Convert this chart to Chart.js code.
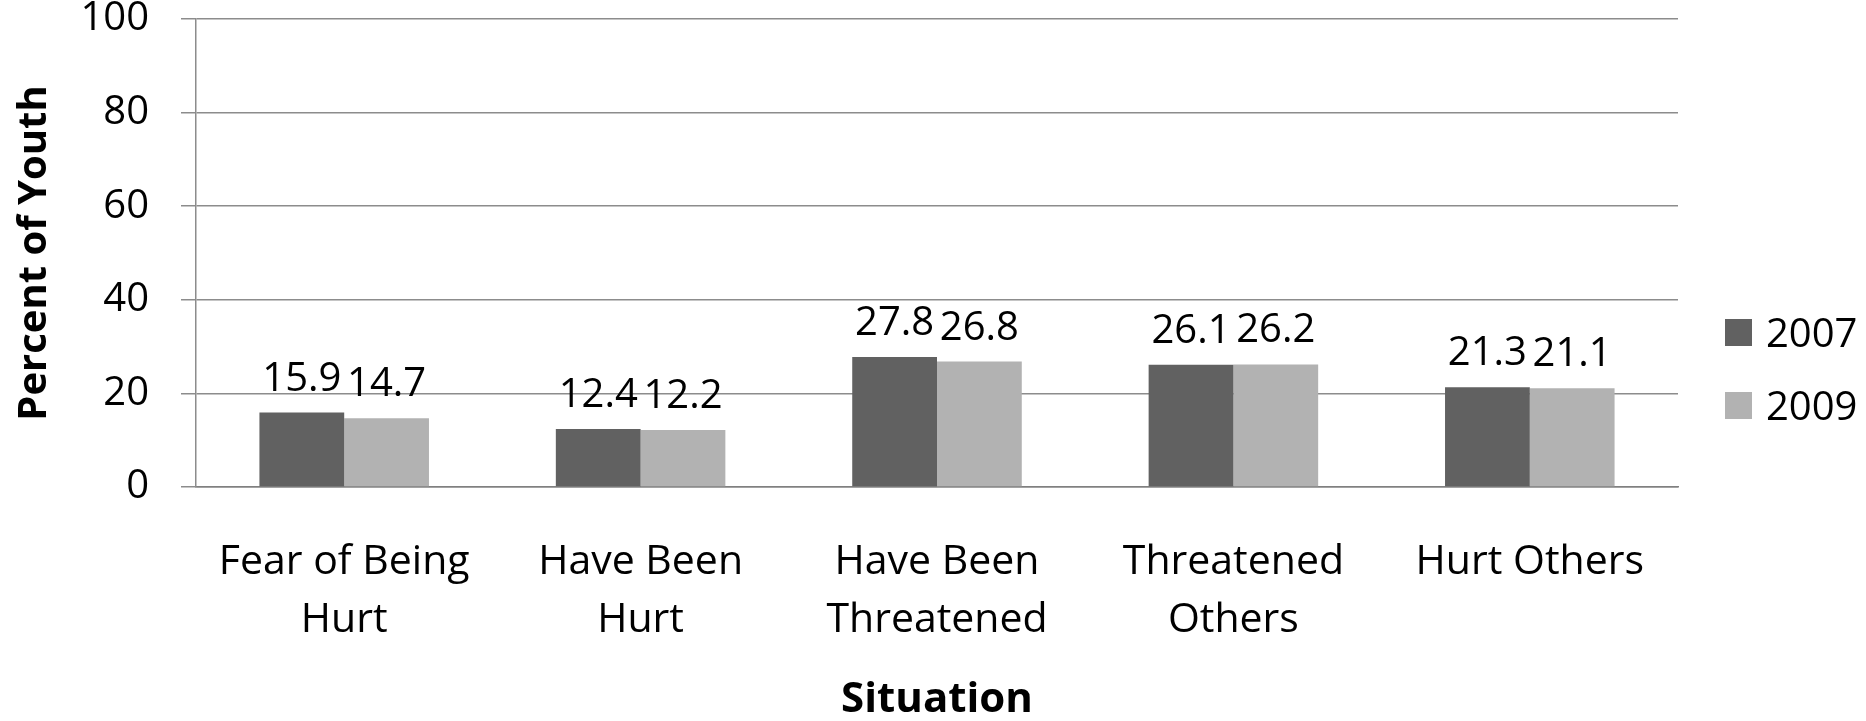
<!DOCTYPE html>
<html>
<head>
<meta charset="utf-8">
<title>Percent of Youth by Situation</title>
<script src="https://cdn.jsdelivr.net/npm/chart.js"></script>
<style>
  body { margin: 0; background: #fff; }
  canvas { display: block; }
</style>
</head>
<body>
<canvas id="chart" width="1866" height="721"></canvas>
<script>
// Chart data
const categories = [['Fear of Being', 'Hurt'], ['Have Been', 'Hurt'], ['Have Been', 'Threatened'], ['Threatened', 'Others'], 'Hurt Others'];
const seriesNames = ['2007', '2009'];
const values2007 = [15.9, 12.4, 27.8, 26.1, 21.3];
const values2009 = [14.7, 12.2, 26.8, 26.2, 21.1];
const yTicks = [0, 20, 40, 60, 80, 100];

const DARK = '#616161';
const LIGHT = '#b2b2b2';
const GRID = '#8c8c8c';
const FONT = '"Open Sans", "Noto Sans", sans-serif';

// Value labels above each bar
const valueLabels = {
  id: 'valueLabels',
  afterDatasetsDraw(chart) {
    const ctx = chart.ctx;
    ctx.save();
    ctx.font = '40px ' + FONT;
    ctx.fillStyle = '#000';
    ctx.textAlign = 'center';
    ctx.textBaseline = 'alphabetic';
    chart.data.datasets.forEach((ds, i) => {
      chart.getDatasetMeta(i).data.forEach((bar, j) => {
        ctx.fillText(ds.data[j].toFixed(1), bar.x, bar.y - 22);
      });
    });
    ctx.restore();
  }
};

// Legend on the right, drawn by hand so it sits where the original one does
const sideLegend = {
  id: 'sideLegend',
  afterDraw(chart) {
    const ctx = chart.ctx;
    ctx.save();
    ctx.font = '40px ' + FONT;
    ctx.textAlign = 'left';
    ctx.textBaseline = 'middle';
    chart.data.datasets.forEach((ds, i) => {
      const y = 319 + i * 73;
      ctx.fillStyle = ds.backgroundColor;
      ctx.fillRect(1725, y, 27, 27);
      ctx.fillStyle = '#000';
      ctx.fillText(ds.label, 1766, y + 17);
    });
    ctx.restore();
  }
};

function draw() {
  Chart.defaults.font.family = FONT;
  new Chart(document.getElementById('chart'), {
    type: 'bar',
    data: {
      labels: categories,
      datasets: [
        { label: seriesNames[0], data: values2007, backgroundColor: DARK },
        { label: seriesNames[1], data: values2009, backgroundColor: LIGHT }
      ]
    },
    options: {
      responsive: false,
      animation: false,
      categoryPercentage: 0.572,
      barPercentage: 1,
      layout: { padding: { top: 19, right: 188, left: 0, bottom: 0 } },
      plugins: {
        legend: { display: false },
        tooltip: { enabled: false }
      },
      scales: {
        x: {
          grid: { display: false, drawTicks: false },
          border: { color: '#808080', width: 1.5 },
          ticks: { color: '#000', font: { size: 41, lineHeight: 1.4 }, padding: 47, maxRotation: 0, autoSkip: false },
          title: { display: true, text: 'Situation', color: '#000', font: { size: 42, weight: 'bold', lineHeight: 1 }, padding: 0 },
          afterFit: s => { s.height = 234; }
        },
        y: {
          min: 0,
          max: 100,
          afterBuildTicks: s => { s.ticks = yTicks.map(v => ({ value: v })); },
          grid: { color: GRID, lineWidth: 1.5, tickLength: 15 },
          border: { color: GRID, width: 1.5 },
          ticks: { color: '#000', font: { size: 40, lineHeight: 1 }, padding: 32 },
          title: { display: true, text: 'Percent of Youth', color: '#000', font: { size: 40, weight: 'bold', lineHeight: 1.2 }, padding: { top: 11, bottom: 0 } },
          afterFit: s => { s.width = 196; s.paddingTop = 0; s.paddingBottom = 0; }
        }
      }
    },
    plugins: [valueLabels, sideLegend]
  });
}

Promise.all([
  document.fonts.load('40px "Open Sans"'),
  document.fonts.load('bold 42px "Open Sans"')
]).then(draw, draw);
</script>
</body>
</html>
